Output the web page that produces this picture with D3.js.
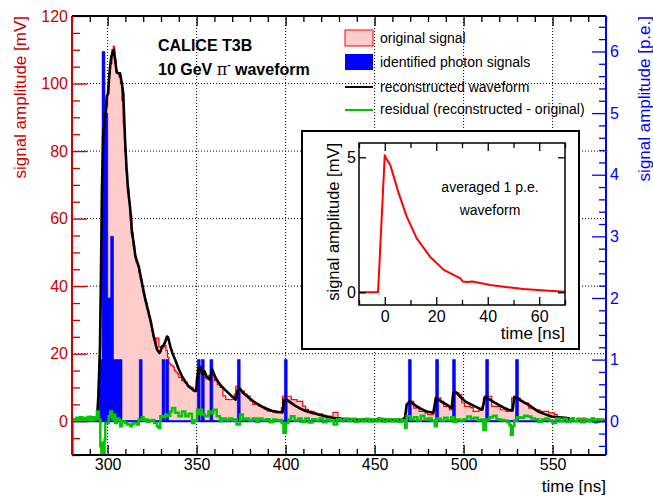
<!DOCTYPE html>
<meta charset="utf-8">
<title>CALICE T3B waveform</title>
<style>
  body { margin:0; padding:0; background:#fff; }
  svg { display:block; }
  text { font-family: 'Liberation Sans', Arial, sans-serif; }
</style>
<body>
<div id='chart'></div>
<script src="https://cdn.jsdelivr.net/npm/d3@7/dist/d3.min.js"></script>
<script>

// original signal [mV], histogram: bin start times [ns], last bin runs to 580
var sigT = [280,281.5,283,284.5,286,287.5,289,290.5,292,293.5,294.5,295.3,296,296.8,297.6,298.4,299.2,300,300.8,301.6,
  302.4,303.2,304,304.8,305.6,306.4,307.2,308,308.8,309.6,310.4,311.2,312,312.8,313.6,314.4,315.2,316,316.8,317.6,
  318.4,319.2,320,320.8,321.6,322.4,323.2,324,324.8,325.6,326.4,327.2,328,328.8,329.6,330.4,331.2,332,332.8,333.6,
  334.4,335.2,336,336.8,337.6,338.4,339.2,340,341.6,343.2,344.8,346.4,348,349.6,350.4,352,353.6,355.2,356.8,358.4,
  360,361.6,363.2,364.8,366.4,368,369.6,371.2,372,373.6,375.2,376.8,378.4,380,381.6,383.2,384.8,386.4,388,389.6,
  391.2,392.8,394.4,396,397.6,398.2,400,401.6,403.2,404.8,406.4,408,409.6,411.2,412.8,414.4,416,417.6,419.2,420.8,
  422.4,424,425.6,426.6,429.4,431,432.6,434.2,435.8,437.4,439,440.6,442.2,443.8,445.4,447,448.6,450.2,451.8,453.4,
  455,456.6,458.2,459.8,461.4,463,464.6,466,467.1,468,469,470.8,472,473.6,475,476.6,478.2,479.8,481.4,483.2,
  484,485.6,487.2,488.8,490.4,492,493.6,494.2,495.8,497.4,499,500.6,502.2,503.8,505.4,507,508.6,510.2,511.1,512.6,
  514.2,515.8,517.4,519,520.6,522.2,523.8,525.4,527,528.6,530.2,531.8,533.4,535,536.6,538.2,539.8,541.4,543,544.6,
  546.2,547.8,549.4,551,552.6,554.2,555.8,557.4,559,560.6,562.2,563.8,565.4,567,568.6,570.2,571.8,573.4,575,576.6,578.2];
var sigV = [0.6,0.2,0.8,0.1,0.7,0.3,1.0,0.2,0.9,0.4,3,14,36,56,72,85,93,97,103,106,
  110,111,107,103,103,102,100,95,88,80,74,69,65,61,56,52,49,47,46,44,
  42,40,38,36,35,33,31,29,27,25,23,24.6,24.6,22,22,21.7,22,22.5,21,19,
  17.2,16.7,16.5,16,15,14.5,14,13,12,11.5,10.5,10,9,10,14,15.5,13,12.5,13.5,14,
  12,10.8,10,7.5,6.5,6.4,6.5,8,10.3,9.5,9,8,7.5,6,5,5,4.5,4,3.5,3,
  3,2.6,2.5,2.6,4,7.4,7.4,7.4,6.4,6.4,5.9,5.9,4.5,3.5,3,2.9,2.5,2,2.2,1.8,
  1.5,1.5,1.2,2.6,1.0,0.8,0.6,0.7,0.5,0.3,0.6,0.2,0.8,0.3,0.6,0.1,0.7,0.4,1.0,0.2,
  0.6,0.3,0.8,0.2,0.6,0.4,0.2,1.0,2.5,4.9,5.9,5.9,3.9,4.4,2.9,2.9,2.5,2.0,2.0,3,
  6.9,6.9,5.9,4.4,4.4,3.4,4,8.4,8.4,7.9,5.4,4.4,4.4,4.0,2.9,2.9,3.4,3.4,6.9,7.4,
  7.4,4.4,4.4,4.4,3.4,3.4,2.9,2.9,6.9,6.9,6.9,5.9,5.4,5.4,3.9,3.9,3.4,3.4,2.9,2.9,
  2.9,2.5,2.5,2.0,1.2,1.0,0.6,0.5,0.3,1.0,0.2,0.8,0.2,0.9,0.3,0.5,1.0,-0.5,0.7,0.2,0.6];

// identified photon signals [p.e.], bin start times [ns]
var peT = [295.3,296.9,298.5,300.1,301.7,303.3,304.9,306.5,317.8,330.6,332.7,350.4,352.7,357.5,372.9,399.3,469.0,484.3,493.8,512.4,529.2];
var peN = [1,6,5,2,3,1,1,1,1,1,1,1,1,1,1,1,1,1,1,1,1];
var peWidth = 1.6;

// reconstructed waveform [mV]
var recoT = [294,294.8,295.7,296.2,296.8,297.5,298.5,299.1,299.5,300.2,301.3,302.1,303,303.5,304.2,305.1,306,307,308,308.8,
  309.8,310.7,311.5,312.6,313.7,314.4,315.6,317.5,319.3,321.2,322.6,324,325.9,327.8,329.1,329.8,330.6,331.5,332.4,333.4,
  334,335.2,336.5,338,339.8,341.8,343.7,345.6,347.3,348.9,349.8,350.2,351,351.9,353,353.6,354.4,355.7,357.5,358.2,
  358.8,360.3,362,364.1,366,367.8,370,371.2,371.9,372.6,373.1,374.4,375.8,377.2,379.5,381.9,384.2,386.6,389.4,392.2,
  395.2,398.2,398.7,399,400.6,402.9,405.3,408.1,410.9,414.6,418.4,422.1,425.9,430,434.3,440,450,460,466,467.1,
  468,469.9,471.8,473.6,476.4,479.2,483,483.8,484.5,485.8,488.2,490.5,493.3,494.2,495.7,497.8,499.8,500.8,503.6,506.4,
  510.2,511.2,512,514.8,517.2,519.5,522.3,525.1,527.5,528.5,530.7,533.5,536.3,539.1,541.9,545.6,549.4,553.2,556.9,559.8];
var recoV = [0.2,7.4,21.8,40,68,85,90,92,96,97,104.5,108,109.5,110,107,103.5,103,103,100,97,
  83.3,74.4,68.5,63.5,55.7,53.7,48.8,45.8,40.9,36,33,30.1,25.1,21.2,20.2,20.8,22.2,22.5,23.6,25.1,
  24.8,22.2,20,18.2,15.6,13.3,11.7,10.3,9.6,9,9,12.3,15.3,16.2,14.6,13.8,14.8,13.2,12.3,14.2,
  15.3,13.3,11.7,10.3,9.3,8.4,7.3,6.9,6.4,8,9.3,9.6,8.6,7.9,6.9,5.9,5.1,4.4,3.7,3.1,
  2.8,2.6,4,6.4,6.4,5.5,4.6,3.8,3.1,2.5,2,1.5,1,0.8,0.5,0.4,0.3,0.3,0.5,1,
  4.9,5.9,5.1,4.4,3.6,2.9,2.5,5,6.9,6.4,5.6,4.9,3.9,8.4,8.6,7.4,6.4,5.9,5.1,4.4,
  3.4,5,7.2,6.4,5.6,4.9,4.1,3.4,3.2,7.2,6.6,5.7,4.9,3.9,2.9,2.1,1.4,1.2,1,0.8];

// residual (reconstructed - original) [mV]
var resT = [280,280.3,281.5,282.5,283.5,284.5,285.5,286.5,288,289,290.5,291.5,292.5,293.5,294,295,295.9,296.5,297.2,297.8,
  298.3,298.7,299.5,300.6,301.5,302.5,303,304.3,305.2,306.2,307.1,308,309,309.9,311,312.8,313.7,314.7,316.5,317.5,
  319.3,320.2,321.2,322.5,323.5,325,326.2,327.8,328.7,329.6,331,332.4,333.5,335.2,336.2,338,339.9,341.8,343.7,345.5,
  347.4,348.8,350.2,351,351.9,353,354.7,356.6,358,359.4,361.3,363.1,364.5,366.5,368.2,370,371.2,372.5,374.4,376,
  377.5,379.5,381.5,383.5,385,387,389,391,393,395,397,397.8,398.8,400.1,401.5,403,405,407,409,411,
  413,415,417,419,421,423,425,427,429,431,433,435,437,439,441,443,445,447,449,451,
  453,455,457,459,461,463,465,466.2,467.1,468,470,472,474,476,478,480,482,483.8,485,487,
  489,491,493,494.5,496,498,500,502,504,506,508,510,511.1,512.5,514.5,516.5,518.5,520.5,522.5,524.5,
  525.8,526.6,527.6,528.5,530,532,534,536,538,540,542,544,546,548,550,552,554,556,558,560,
  562,564,566,568,570,572,574,576,578];
var resV = [-12,0.5,0.2,1.0,0.3,1.2,0.2,1.0,0.4,1.3,0.3,1.2,0.5,1.0,2.9,0.5,-7.4,-9.4,-6.4,-9.4,
  -5.4,-0.5,-0.5,1.5,2.9,0.5,2.0,-0.5,0.8,0.5,-1.5,0,-0.2,-0.5,-1.0,-1.5,-0.8,-0.5,-1.0,0.5,
  1.2,0.3,0.5,-0.2,0.2,0.4,-0.5,-1.5,-2.0,1.5,1.2,2.0,1.6,2.9,3.9,2.5,1.5,2.9,1.5,2.2,
  -0.5,0.2,3.4,2.2,3.4,2.0,1.5,2.9,2.4,3.4,1.5,0,0.8,0.3,0.8,0.2,0.5,-1.0,2.0,0.5,
  0.8,0.2,0.8,-0.2,0.8,0.3,0.6,-0.3,0.5,0.2,0.4,-0.5,-3.4,-0.5,0.5,1.5,0.2,0.8,-0.2,0.8,
  -0.4,0.6,0.2,0.8,-0.3,0.5,0.1,-1.0,0.6,0.2,0.8,0.1,0.7,-0.2,0.6,0,0.7,-0.1,0.6,0,
  0.7,-0.1,0.6,0,0.6,-0.2,0.4,0.2,-2.0,1.5,0.5,1.2,0.2,1.6,0.5,0.8,0.2,-1.5,0.8,0.2,
  1.0,0.3,1.2,-0.2,0.5,0.2,0.6,1.4,0.8,1.0,0.3,0.5,-2.5,0.5,1.2,1.6,0.6,0.4,0.2,-0.3,
  -1.2,-4.0,-1.5,0.2,1.2,1.0,1.6,1.4,0.8,0.6,-0.2,0.5,0.8,0.2,-0.5,0.8,0,0.7,-0.2,0.6,
  0,0.7,-0.3,0.5,0,0.6,-0.2,0.5,0.1];

// inset: averaged 1 p.e. waveform
var pulseT = [-10,-2.6,0,0.7,2,3.3,5.2,8.5,12.4,17.6,22.9,29.4,30.3,32,34,41,47.7,54,62,70];
var pulseV = [0,0,5.08,4.93,4.75,4.35,3.73,2.81,2,1.32,0.83,0.52,0.4,0.38,0.4,0.27,0.19,0.12,0.07,0.02];

var xTicks = [300,350,400,450,500,550],
    yTicks = [0,20,40,60,80,100,120],
    peTicks = [0,1,2,3,4,5,6],
    insetXTicks = [0,20,40,60],
    insetYTicks = [0,5];

var legendLabels = ['original signal','identified photon signals','reconstructed waveform','residual (reconstructed - original)'];

var W = 653, H = 496,
    L = 72, R = 606, T = 16, B = 455,
    mvColor = '#cc0000', peColor = '#0000ff', resColor = '#00c800';

var svg = d3.select('#chart').append('svg').attr('width', W).attr('height', H);

var x = d3.scaleLinear().domain([280,580]).range([L,R]),
    y = d3.scaleLinear().domain([-10,120]).range([B,T]),
    yPE = d3.scaleLinear().domain([-10/18.25, 120/18.25]).range([B,T]);

svg.append('clipPath').attr('id','frameClip')
  .append('rect').attr('x',L).attr('y',T).attr('width',R-L).attr('height',B-T);

// grid
var grid = svg.append('g').attr('stroke','#000').attr('stroke-width',1).attr('stroke-dasharray','1,2');
xTicks.forEach(function(t) {
  grid.append('line').attr('x1',x(t)).attr('x2',x(t)).attr('y1',T).attr('y2',B);
});
yTicks.forEach(function(v) {
  grid.append('line').attr('x1',L).attr('x2',R).attr('y1',y(v)).attr('y2',y(v));
});

var plot = svg.append('g').attr('clip-path','url(#frameClip)');

// original signal histogram
var sig = sigT.map(function(t,i) { return [t, sigV[i]]; });
sig.push([580, sigV[sigV.length-1]]);
plot.append('path').datum(sig)
  .attr('fill','#ffcccc')
  .attr('d', d3.area().curve(d3.curveStepAfter).x(function(d){return x(d[0]);}).y0(y(0)).y1(function(d){return y(d[1]);}));
plot.append('path').datum(sig)
  .attr('fill','none').attr('stroke','#ff0000').attr('stroke-width',1.2)
  .attr('d', d3.line().curve(d3.curveStepAfter).x(function(d){return x(d[0]);}).y(function(d){return y(d[1]);}));

// photon signals as one step shape
var pe = [];
peT.forEach(function(t,i) {
  pe.push([t, peN[i]]);
  var end = t + peWidth;
  if (i == peT.length-1 || Math.abs(peT[i+1] - end) > 0.05) pe.push([end, 0]);
});
plot.append('path').datum(pe)
  .attr('fill', peColor).attr('stroke', peColor).attr('stroke-width', 0.6)
  .attr('d', d3.area().curve(d3.curveStepAfter).x(function(d){return x(d[0]);}).y0(yPE(0)).y1(function(d){return yPE(d[1]);}));
plot.append('line').attr('x1',L).attr('x2',R).attr('y1',yPE(0)).attr('y2',yPE(0))
  .attr('stroke',peColor).attr('stroke-width',2);

// reconstructed waveform
plot.append('path').datum(recoT.map(function(t,i){ return [t, recoV[i]]; }))
  .attr('fill','none').attr('stroke','#000').attr('stroke-width',2.6).attr('stroke-linejoin','round')
  .attr('d', d3.line().x(function(d){return x(d[0]);}).y(function(d){return y(d[1]);}));

// residual
plot.append('path').datum(resT.map(function(t,i){ return [t, resV[i]]; }))
  .attr('fill','none').attr('stroke',resColor).attr('stroke-width',2.5)
  .attr('d', d3.line().curve(d3.curveStepAfter).x(function(d){return x(d[0]);}).y(function(d){return y(d[1]);}));

// axes
function styleAxis(g, color, size) {
  g.select('.domain').remove();
  g.attr('color', color).attr('font-family', "'Liberation Sans', Arial, sans-serif").attr('font-size', size);
  g.selectAll('line').attr('stroke-width', 1.3);
}

var minorX = d3.range(280,581,10).filter(function(v){ return v % 50; });
svg.append('g').attr('transform','translate(0,'+B+')')
  .call(d3.axisBottom(x).tickValues(xTicks).tickSize(-10).tickSizeOuter(0).tickPadding(4))
  .call(styleAxis, '#000', 16);
svg.append('g').attr('transform','translate(0,'+B+')')
  .call(d3.axisBottom(x).tickValues(minorX).tickSize(-6).tickSizeOuter(0).tickFormat(''))
  .call(styleAxis, '#000', 16);
svg.append('g').attr('transform','translate(0,'+T+')')
  .call(d3.axisTop(x).tickValues(xTicks).tickSize(-10).tickSizeOuter(0).tickFormat(''))
  .call(styleAxis, '#000', 16);
svg.append('g').attr('transform','translate(0,'+T+')')
  .call(d3.axisTop(x).tickValues(minorX).tickSize(-6).tickSizeOuter(0).tickFormat(''))
  .call(styleAxis, '#000', 16);

var minorY = d3.range(-10,121,5).filter(function(v){ return v % 20; });
svg.append('g').attr('transform','translate('+L+',0)')
  .call(d3.axisLeft(y).tickValues(yTicks).tickSize(-15).tickSizeOuter(0).tickPadding(4))
  .call(styleAxis, mvColor, 16);
svg.append('g').attr('transform','translate('+L+',0)')
  .call(d3.axisLeft(y).tickValues(minorY).tickSize(-8).tickSizeOuter(0).tickFormat(''))
  .call(styleAxis, mvColor, 16);

var minorPE = d3.range(-0.4,6.6,0.2).filter(function(v){ return Math.abs(v - Math.round(v)) > 0.01; });
svg.append('g').attr('transform','translate('+R+',0)')
  .call(d3.axisRight(yPE).tickValues(peTicks).tickSize(-14).tickSizeOuter(0).tickPadding(4))
  .call(styleAxis, peColor, 16);
svg.append('g').attr('transform','translate('+R+',0)')
  .call(d3.axisRight(yPE).tickValues(minorPE).tickSize(-7).tickSizeOuter(0).tickFormat(''))
  .call(styleAxis, peColor, 16);

// frame
svg.append('line').attr('x1',L).attr('x2',R).attr('y1',T).attr('y2',T).attr('stroke','#000').attr('stroke-width',2);
svg.append('line').attr('x1',L).attr('x2',R).attr('y1',B).attr('y2',B).attr('stroke','#000').attr('stroke-width',2);
svg.append('line').attr('x1',L).attr('x2',L).attr('y1',T).attr('y2',B).attr('stroke',mvColor).attr('stroke-width',2);
svg.append('line').attr('x1',R).attr('x2',R).attr('y1',T).attr('y2',B).attr('stroke',peColor).attr('stroke-width',2);

// axis titles
svg.append('text').attr('transform','translate(26,'+T+') rotate(-90)')
  .attr('text-anchor','end').attr('font-size',17).attr('fill',mvColor).text('signal amplitude [mV]');
svg.append('text').attr('transform','translate(650,'+T+') rotate(-90)')
  .attr('text-anchor','end').attr('font-size',17).attr('fill',peColor).text('signal amplitude [p.e.]');
svg.append('text').attr('x',R).attr('y',492).attr('text-anchor','end').attr('font-size',17).text('time [ns]');

// title
svg.append('text').attr('x',158).attr('y',51).attr('font-size',16).attr('font-weight','bold').text('CALICE T3B');
var t2 = svg.append('text').attr('x',158).attr('y',75).attr('font-size',16).attr('font-weight','bold');
t2.append('tspan').text('10 GeV ');
t2.append('tspan').attr('font-family','DejaVu Serif').attr('font-weight','normal').text('π');
t2.append('tspan').attr('font-size',10).attr('dy',-7).text('-');
t2.append('tspan').attr('dy',7).text(' waveform');

// legend
var lg = svg.append('g');
lg.append('rect').attr('x',345).attr('y',30).attr('width',28).attr('height',16)
  .attr('fill','#ffcccc').attr('stroke','#ff0000').attr('stroke-width',1);
lg.append('rect').attr('x',345).attr('y',54).attr('width',28).attr('height',16).attr('fill',peColor);
lg.append('line').attr('x1',345).attr('x2',373).attr('y1',87).attr('y2',87).attr('stroke','#000').attr('stroke-width',2);
lg.append('line').attr('x1',345).attr('x2',373).attr('y1',110).attr('y2',110).attr('stroke',resColor).attr('stroke-width',2);
[38,62,87,109].forEach(function(cy,i) {
  lg.append('text').attr('x',380).attr('y',cy+5).attr('font-size',14).text(legendLabels[i]);
});

// inset
var iL = 359, iR = 565, iT = 143, iB = 305;
var xi = d3.scaleLinear().domain([-10,70]).range([iL,iR]),
    yi = d3.scaleLinear().domain([-0.47,5.53]).range([iB,iT]);
var inset = svg.append('g');
inset.append('rect').attr('x',302).attr('y',131).attr('width',277).attr('height',218)
  .attr('fill','#fff').attr('stroke','#000').attr('stroke-width',2);

inset.append('path').datum(pulseT.map(function(t,i){ return [t, pulseV[i]]; }))
  .attr('fill','none').attr('stroke','#ff0000').attr('stroke-width',2).attr('stroke-linejoin','round')
  .attr('d', d3.line().x(function(d){return xi(d[0]);}).y(function(d){return yi(d[1]);}));

var insetMinorX = [-10,10,30,50,70];
inset.append('g').attr('transform','translate(0,'+iB+')')
  .call(d3.axisBottom(xi).tickValues(insetXTicks).tickSize(-8).tickSizeOuter(0).tickPadding(6).tickFormat(d3.format('d')))
  .call(styleAxis, '#000', 16);
inset.append('g').attr('transform','translate(0,'+iB+')')
  .call(d3.axisBottom(xi).tickValues(insetMinorX).tickSize(-5).tickSizeOuter(0).tickFormat(''))
  .call(styleAxis, '#000', 16);
inset.append('g').attr('transform','translate(0,'+iT+')')
  .call(d3.axisTop(xi).tickValues(insetXTicks).tickSize(-8).tickSizeOuter(0).tickFormat(''))
  .call(styleAxis, '#000', 16);
inset.append('g').attr('transform','translate(0,'+iT+')')
  .call(d3.axisTop(xi).tickValues(insetMinorX).tickSize(-5).tickSizeOuter(0).tickFormat(''))
  .call(styleAxis, '#000', 16);
inset.append('g').attr('transform','translate('+iL+',0)')
  .call(d3.axisLeft(yi).tickValues(insetYTicks).tickSize(-7).tickSizeOuter(0).tickPadding(3).tickFormat(d3.format('d')))
  .call(styleAxis, '#000', 16);
inset.append('g').attr('transform','translate('+iR+',0)')
  .call(d3.axisRight(yi).tickValues(insetYTicks).tickSize(-7).tickSizeOuter(0).tickFormat(''))
  .call(styleAxis, '#000', 16);
inset.append('rect').attr('x',iL).attr('y',iT).attr('width',iR-iL).attr('height',iB-iT)
  .attr('fill','none').attr('stroke','#000').attr('stroke-width',1.5);

inset.append('text').attr('transform','translate(339,'+iT+') rotate(-90)')
  .attr('text-anchor','end').attr('font-size',16.5).text('signal amplitude [mV]');
inset.append('text').attr('x',iR).attr('y',339).attr('text-anchor','end').attr('font-size',17).text('time [ns]');
inset.append('text').attr('x',490).attr('y',192).attr('text-anchor','middle').attr('font-size',14).text('averaged 1 p.e.');
inset.append('text').attr('x',490).attr('y',215).attr('text-anchor','middle').attr('font-size',14).text('waveform');

</script>
</body>
